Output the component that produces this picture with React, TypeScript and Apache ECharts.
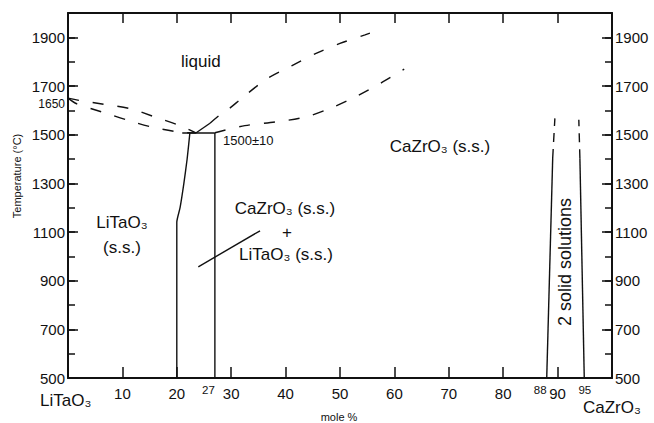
import React, { useEffect, useRef } from "react";
import * as echarts from "echarts";

// ---- Data (mole % CaZrO3, temperature °C) ----
const liquidusLeft = [[0, 1650], [2.2, 1640], [6.6, 1625], [11.4, 1607], [15.8, 1574], [20.6, 1537], [23.5, 1507]];
const solidusLeft = [[0, 1650], [1.6, 1627], [7.0, 1588], [11.9, 1553], [16.3, 1527], [21.6, 1508], [23.5, 1507]];
const eutecticStub = [[23.5, 1507], [26.1, 1547]];
const liquidusRight = [[26.1, 1547], [27.9, 1581], [29.8, 1610], [31.9, 1649], [36.4, 1727], [41.1, 1783], [45.6, 1834], [50, 1875], [54.6, 1910], [55.5, 1917]];
const solidusRight = [[27, 1508], [32.5, 1537], [38.4, 1553], [43.9, 1574], [48.8, 1614], [53.2, 1660], [57.5, 1712], [61.8, 1769]];
const litaoBoundary = [[20, 500], [20, 1140], [20.6, 1200], [21.3, 1300], [21.9, 1400], [22.4, 1507]];
const eutecticLine = [[21, 1507], [27, 1507]];
const boundary27 = [[27, 500], [27, 1507]];
const tieLine = [[23.95, 957], [35.3, 1105]];
const ssLeftSolid = [[88, 500], [89.1, 1404]];
const ssLeftDashed = [[89.1, 1404], [89.5, 1567]];
const ssRightSolid = [[94.9, 500], [94.1, 1403]];
const ssRightDashed = [[94.1, 1403], [93.9, 1561]];

// ---- Tick labels ----
const xTickLabels = [10, 20, 27, 30, 40, 50, 60, 70, 80, 88, 90, 95];
const leftYLabels = [500, 700, 900, 1100, 1300, 1500, 1650, 1700, 1900];
const rightYLabels = [500, 700, 900, 1100, 1300, 1500, 1700, 1900];
const yMajorTicks = [500, 700, 900, 1100, 1300, 1500, 1700, 1900];

const FONT = "'Liberation Sans', Arial, Helvetica, sans-serif";
const INK = "#111";

function lineSeries(data: number[][], dashed: boolean | number[], smooth: number | boolean = false, width = 1.4) {
  return {
    type: "line",
    data,
    xAxisIndex: 0,
    yAxisIndex: 0,
    symbol: "none",
    smooth,
    silent: true,
    lineStyle: {
      color: INK,
      width,
      type: dashed === false ? "solid" : dashed === true ? [11, 14] : dashed,
    },
  };
}

export default function App() {
  const ref = useRef<HTMLDivElement>(null);
  useEffect(() => {
    if (!ref.current) return;
    const chart = echarts.init(ref.current, null, { renderer: "svg" });
    const axisLine = { show: true, onZero: false, lineStyle: { color: INK, width: 2 } };
    const option: any = {
      animation: false,
      backgroundColor: "#fff",
      grid: { left: 68, right: 42, top: 13, bottom: 45, containLabel: false, outerBoundsMode: "none" },
      xAxis: [
        {
          type: "value", position: "bottom", min: 0, max: 100, interval: 10,
          axisLine,
          axisTick: { inside: true, length: 11, lineStyle: { color: INK, width: 1.5 } },
          axisLabel: {
            customValues: xTickLabels,
            margin: 6, fontSize: 15, color: INK, fontFamily: FONT,
            formatter: (v: number) => (v === 27 || v === 88 ? `{r|${v}}` : v === 95 ? `{s|${v}}` : `{n|${v}}`),
            rich: {
              n: { fontSize: 15, padding: [2, 0, 0, 0], color: INK, fontFamily: FONT },
              r: { fontSize: 11.5, padding: [0, 13, 0, 0], color: INK, fontFamily: FONT },
              s: { fontSize: 11.5, color: INK, fontFamily: FONT },
            },
          },
          splitLine: { show: false },
        },
        {
          type: "value", position: "top", min: 0, max: 100, interval: 10,
          axisLine,
          axisTick: { inside: true, length: 10, lineStyle: { color: INK, width: 1.5 } },
          axisLabel: { show: false },
          splitLine: { show: false },
        },
      ],
      yAxis: [
        {
          type: "value", position: "left", min: 500, max: 2000, interval: 100,
          axisLine,
          axisTick: { inside: true, length: 7, lineStyle: { color: INK, width: 1.5 } },
          axisLabel: {
            customValues: leftYLabels,
            margin: 3, fontSize: 15, color: INK, fontFamily: FONT,
            formatter: (v: number) => (v === 1650 ? `{s|${v}}` : `${v}`),
            rich: { s: { fontSize: 12, padding: [12, 0, 0, 0], color: INK, fontFamily: FONT } },
          },
          splitLine: { show: false },
        },
        {
          type: "value", position: "left", min: 500, max: 2000, interval: 100,
          axisLine: { show: false, onZero: false },
          axisTick: { inside: true, length: 10, customValues: yMajorTicks, lineStyle: { color: INK, width: 1.5 } },
          axisLabel: { show: false },
          splitLine: { show: false },
        },
        {
          type: "value", position: "right", min: 500, max: 2000, interval: 100,
          axisLine,
          axisTick: { inside: true, length: 7, lineStyle: { color: INK, width: 1.5 } },
          axisLabel: {
            customValues: rightYLabels,
            margin: 3, fontSize: 15, color: INK, fontFamily: FONT,
            formatter: (v: number) => `${v}`,
          },
          splitLine: { show: false },
        },
        {
          type: "value", position: "right", min: 500, max: 2000, interval: 100,
          axisLine: { show: false, onZero: false },
          axisTick: { inside: true, length: 10, customValues: yMajorTicks, lineStyle: { color: INK, width: 1.5 } },
          axisLabel: { show: false },
          splitLine: { show: false },
        },
      ],
      series: [
        lineSeries(liquidusLeft, true, 0.3),
        lineSeries(solidusLeft, true, 0.3),
        lineSeries(eutecticStub, false),
        lineSeries(liquidusRight, true, 0.3),
        lineSeries(solidusRight, true, 0.3),
        lineSeries(litaoBoundary, false, 0.2),
        lineSeries(eutecticLine, false),
        lineSeries(boundary27, false),
        lineSeries(tieLine, false),
        lineSeries(ssLeftSolid, false),
        lineSeries(ssLeftDashed, [9, 7]),
        lineSeries(ssRightSolid, false),
        lineSeries(ssRightDashed, [9, 7]),
      ],
      graphic: [
        { type: "text", x: 181, y: 61, style: { text: "liquid", fill: INK, fontSize: 17, fontFamily: FONT, align: "left", verticalAlign: "middle" } },
        { type: "text", x: 122, y: 222, style: { text: "LiTaO₃", fill: INK, fontSize: 17, fontFamily: FONT, align: "center", verticalAlign: "middle" } },
        { type: "text", x: 122, y: 247, style: { text: "(s.s.)", fill: INK, fontSize: 17, fontFamily: FONT, align: "center", verticalAlign: "middle" } },
        { type: "text", x: 285, y: 208, style: { text: "CaZrO₃ (s.s.)", fill: INK, fontSize: 17, fontFamily: FONT, align: "center", verticalAlign: "middle" } },
        { type: "text", x: 287, y: 232, style: { text: "+", fill: INK, fontSize: 17, fontFamily: FONT, align: "center", verticalAlign: "middle" } },
        { type: "text", x: 286, y: 254, style: { text: "LiTaO₃ (s.s.)", fill: INK, fontSize: 17, fontFamily: FONT, align: "center", verticalAlign: "middle" } },
        { type: "text", x: 440, y: 146, style: { text: "CaZrO₃ (s.s.)", fill: INK, fontSize: 17, fontFamily: FONT, align: "center", verticalAlign: "middle" } },
        { type: "text", x: 565, y: 262, rotation: Math.PI / 2, style: { text: "2 solid solutions", fill: INK, fontSize: 18, fontFamily: FONT, align: "center", verticalAlign: "middle" } },
        { type: "text", x: 223, y: 140, style: { text: "1500±10", fill: INK, fontSize: 13, fontFamily: FONT, align: "left", verticalAlign: "middle" } },
        { type: "text", x: 40, y: 400, style: { text: "LiTaO₃", fill: INK, fontSize: 17, fontFamily: FONT, align: "left", verticalAlign: "middle" } },
        { type: "text", x: 583, y: 407, style: { text: "CaZrO₃", fill: INK, fontSize: 17, fontFamily: FONT, align: "left", verticalAlign: "middle" } },
        { type: "text", x: 339, y: 417, style: { text: "mole %", fill: INK, fontSize: 11, fontFamily: FONT, align: "center", verticalAlign: "middle" } },
        { type: "text", x: 17, y: 176, rotation: Math.PI / 2, style: { text: "Temperature (°C)", fill: INK, fontSize: 11, fontFamily: FONT, align: "center", verticalAlign: "middle" } },
      ],
    };
    chart.setOption(option);
    return () => chart.dispose();
  }, []);
  return <div ref={ref} style={{ position: "fixed", left: 0, top: 0, width: 654, height: 423, background: "#fff" }} />;
}
